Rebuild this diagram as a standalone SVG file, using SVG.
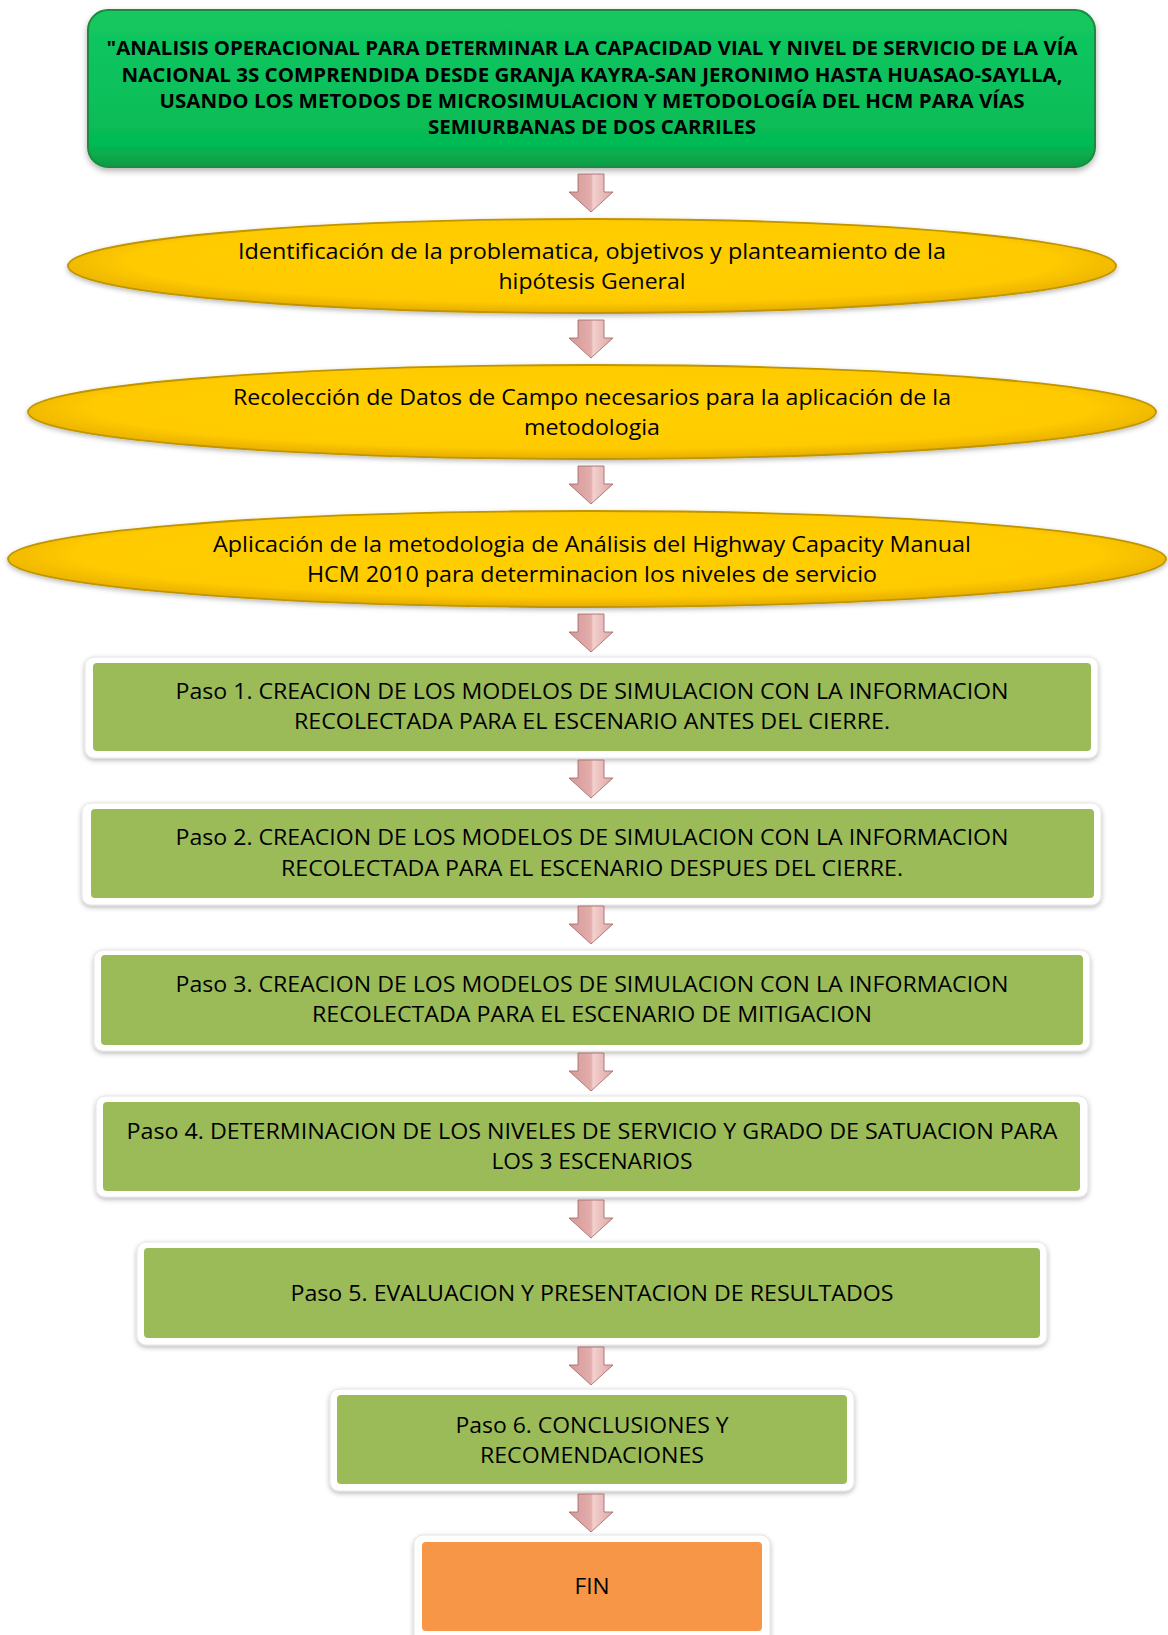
<svg xmlns="http://www.w3.org/2000/svg" xmlns:xlink="http://www.w3.org/1999/xlink" width="1168" height="1635" viewBox="0 0 1168 1635">
  <style>
    .t { font-family: "Open Sans", "Noto Sans", "DejaVu Sans", sans-serif; font-size: 22px; fill: #000; text-anchor: middle; }
    .tb { font-family: "Open Sans", "Noto Sans", "DejaVu Sans", sans-serif; font-size: 19px; font-weight: bold; fill: #000; text-anchor: middle; }
    .frame { fill: #ffffff; stroke: #e4e4e4; stroke-width: 1; }
    .step { fill: #9bbb59; }
    .oval { fill: url(#gold); stroke: #bf9500; stroke-width: 1.8; }
    .arrow { fill: url(#pink); stroke: #a86e6c; stroke-width: 0.9; }
  </style>
  <defs>
    <filter id="shadow" x="-5%" y="-20%" width="110%" height="150%">
      <feDropShadow dx="0" dy="3" stdDeviation="3" flood-color="#000" flood-opacity="0.3"/>
    </filter>
    <filter id="shadowSoft" x="-5%" y="-20%" width="110%" height="150%">
      <feDropShadow dx="0" dy="2" stdDeviation="2.5" flood-color="#000" flood-opacity="0.28"/>
    </filter>
    <linearGradient id="greenTop" x1="0" y1="0" x2="0" y2="1">
      <stop offset="0" stop-color="#14c862"/>
      <stop offset="0.85" stop-color="#05bb55"/>
      <stop offset="1" stop-color="#0a9a45"/>
    </linearGradient>
    <radialGradient id="gold" cx="0.5" cy="0.45" r="0.55">
      <stop offset="0" stop-color="#ffcf00"/>
      <stop offset="0.8" stop-color="#ffcb00"/>
      <stop offset="1" stop-color="#e6ad00"/>
    </radialGradient>
    <linearGradient id="pink" x1="0" y1="0" x2="1" y2="0">
      <stop offset="0" stop-color="#d59a98"/>
      <stop offset="0.5" stop-color="#e2adab"/>
      <stop offset="0.55" stop-color="#f3d0ce"/>
      <stop offset="1" stop-color="#dca6a4"/>
    </linearGradient>
    <path id="arr" class="arrow" d="M -13 0 H 13 V 18 H 22 L 0 38 L -22 18 H -13 Z"/>
  </defs>

  <!-- title block -->
  <g id="title">
    <rect x="88" y="10" width="1007" height="157" rx="20" ry="20" fill="url(#greenTop)" stroke="#1b8a40" stroke-width="2" filter="url(#shadow)"/>
    <text class="tb" x="592" y="55" textLength="971" lengthAdjust="spacingAndGlyphs">"ANALISIS OPERACIONAL PARA DETERMINAR LA CAPACIDAD VIAL Y NIVEL DE SERVICIO DE LA VÍA</text>
    <text class="tb" x="592" y="82" textLength="941" lengthAdjust="spacingAndGlyphs">NACIONAL 3S COMPRENDIDA DESDE GRANJA KAYRA-SAN JERONIMO HASTA HUASAO-SAYLLA,</text>
    <text class="tb" x="592" y="108" textLength="865" lengthAdjust="spacingAndGlyphs">USANDO LOS METODOS DE MICROSIMULACION Y METODOLOGÍA DEL HCM PARA VÍAS</text>
    <text class="tb" x="592" y="134" textLength="328" lengthAdjust="spacingAndGlyphs">SEMIURBANAS DE DOS CARRILES</text>
  </g>

  <!-- oval stages -->
  <g id="problem">
    <ellipse class="oval" cx="592" cy="266" rx="524" ry="47" filter="url(#shadowSoft)"/>
    <text class="t" x="592" y="259" textLength="708" lengthAdjust="spacingAndGlyphs">Identificación de la problematica, objetivos y planteamiento de la</text>
    <text class="t" x="592" y="289" textLength="187" lengthAdjust="spacingAndGlyphs">hipótesis General</text>
  </g>
  <g id="fieldData">
    <ellipse class="oval" cx="592" cy="412" rx="564" ry="47" filter="url(#shadowSoft)"/>
    <text class="t" x="592" y="405" textLength="718" lengthAdjust="spacingAndGlyphs">Recolección de Datos de Campo necesarios para la aplicación de la</text>
    <text class="t" x="592" y="435" textLength="136" lengthAdjust="spacingAndGlyphs">metodologia</text>
  </g>
  <g id="hcm">
    <ellipse class="oval" cx="587" cy="559" rx="579" ry="48" filter="url(#shadowSoft)"/>
    <text class="t" x="592" y="552" textLength="758" lengthAdjust="spacingAndGlyphs">Aplicación de la metodologia de Análisis del Highway Capacity Manual</text>
    <text class="t" x="592" y="582" textLength="570" lengthAdjust="spacingAndGlyphs">HCM 2010 para determinacion los niveles de servicio</text>
  </g>

  <!-- numbered steps -->
  <g id="step1">
    <rect class="frame" x="85" y="657" width="1013" height="101" rx="9" filter="url(#shadowSoft)"/>
    <rect class="step" x="93" y="663" width="998" height="88" rx="4"/>
    <text class="t" x="592" y="699" textLength="833" lengthAdjust="spacingAndGlyphs">Paso 1. CREACION DE LOS MODELOS DE SIMULACION CON LA INFORMACION</text>
    <text class="t" x="592" y="729" textLength="596" lengthAdjust="spacingAndGlyphs">RECOLECTADA PARA EL ESCENARIO ANTES DEL CIERRE.</text>
  </g>
  <g id="step2">
    <rect class="frame" x="82" y="803" width="1019" height="102" rx="9" filter="url(#shadowSoft)"/>
    <rect class="step" x="91" y="809" width="1003" height="89" rx="4"/>
    <text class="t" x="592" y="845" textLength="833" lengthAdjust="spacingAndGlyphs">Paso 2. CREACION DE LOS MODELOS DE SIMULACION CON LA INFORMACION</text>
    <text class="t" x="592" y="876" textLength="622" lengthAdjust="spacingAndGlyphs">RECOLECTADA PARA EL ESCENARIO DESPUES DEL CIERRE.</text>
  </g>
  <g id="step3">
    <rect class="frame" x="94" y="950" width="996" height="101" rx="9" filter="url(#shadowSoft)"/>
    <rect class="step" x="101" y="955" width="982" height="90" rx="4"/>
    <text class="t" x="592" y="992" textLength="833" lengthAdjust="spacingAndGlyphs">Paso 3. CREACION DE LOS MODELOS DE SIMULACION CON LA INFORMACION</text>
    <text class="t" x="592" y="1022" textLength="560" lengthAdjust="spacingAndGlyphs">RECOLECTADA PARA EL ESCENARIO DE MITIGACION</text>
  </g>
  <g id="step4">
    <rect class="frame" x="96" y="1096" width="992" height="101" rx="9" filter="url(#shadowSoft)"/>
    <rect class="step" x="103" y="1102" width="977" height="89" rx="4"/>
    <text class="t" x="592" y="1139" textLength="931" lengthAdjust="spacingAndGlyphs">Paso 4. DETERMINACION DE LOS NIVELES DE SERVICIO Y GRADO DE SATUACION PARA</text>
    <text class="t" x="592" y="1169" textLength="201" lengthAdjust="spacingAndGlyphs">LOS 3 ESCENARIOS</text>
  </g>
  <g id="step5">
    <rect class="frame" x="137" y="1242" width="910" height="103" rx="9" filter="url(#shadowSoft)"/>
    <rect class="step" x="144" y="1248" width="896" height="90" rx="4"/>
    <text class="t" x="592" y="1301" textLength="603" lengthAdjust="spacingAndGlyphs">Paso 5. EVALUACION Y PRESENTACION DE RESULTADOS</text>
  </g>
  <g id="step6">
    <rect class="frame" x="330" y="1389" width="524" height="102" rx="9" filter="url(#shadowSoft)"/>
    <rect class="step" x="337" y="1395" width="510" height="89" rx="4"/>
    <text class="t" x="592" y="1433" textLength="273" lengthAdjust="spacingAndGlyphs">Paso 6. CONCLUSIONES Y</text>
    <text class="t" x="592" y="1463" textLength="224" lengthAdjust="spacingAndGlyphs">RECOMENDACIONES</text>
  </g>
  <g id="end">
    <rect class="frame" x="414" y="1535" width="356" height="110" rx="9" filter="url(#shadowSoft)"/>
    <rect x="422" y="1542" width="340" height="89" rx="4" fill="#f79646"/>
    <text class="t" x="592" y="1594" textLength="35" lengthAdjust="spacingAndGlyphs">FIN</text>
  </g>

  <!-- connectors -->
  <g id="connectors">
    <use xlink:href="#arr" x="591" y="174"/>
    <use xlink:href="#arr" x="591" y="320"/>
    <use xlink:href="#arr" x="591" y="466"/>
    <use xlink:href="#arr" x="591" y="614"/>
    <use xlink:href="#arr" x="591" y="760"/>
    <use xlink:href="#arr" x="591" y="906"/>
    <use xlink:href="#arr" x="591" y="1053"/>
    <use xlink:href="#arr" x="591" y="1200"/>
    <use xlink:href="#arr" x="591" y="1347"/>
    <use xlink:href="#arr" x="591" y="1494"/>
  </g>
</svg>
